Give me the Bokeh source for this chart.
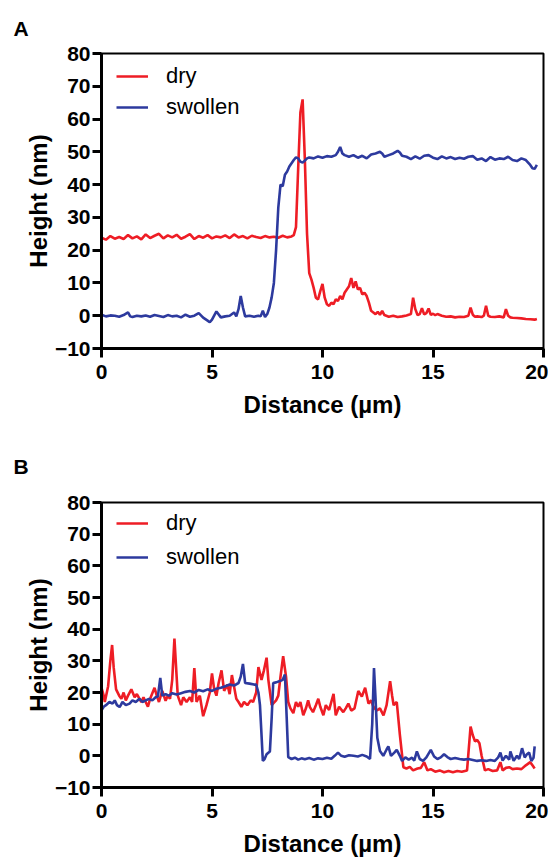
from bokeh.plotting import figure
from bokeh.layouts import column
from bokeh.models import Legend, LegendItem, Title, FixedTicker, Range1d
from bokeh.embed import file_html
from bokeh.resources import INLINE

# ---------------- data ----------------
x_ticks = [0, 5, 10, 15, 20]
y_ticks = [-10, 0, 10, 20, 30, 40, 50, 60, 70, 80]
series_names = ["dry", "swollen"]
panel_letters = ["A", "B"]

a_dry_x = [0.0,0.2,0.4,0.6,0.8,1.0,1.2,1.4,1.6,1.8,2.0,2.2,2.4,2.6,2.8,3.0,3.2,3.4,3.6,3.8,
           4.0,4.2,4.4,4.6,4.8,5.0,5.2,5.4,5.6,5.8,6.0,6.2,6.4,6.6,6.8,7.0,7.2,7.4,7.6,7.8,
           8.0,8.2,8.4,8.6,8.7,8.8,8.9,9.0,9.1,9.2,9.3,9.4,9.5,9.6,9.7,9.8,9.9,10.0,10.1,10.2,
           10.3,10.4,10.5,10.6,10.7,10.8,10.9,11.0,11.1,11.2,11.3,11.4,11.5,11.6,11.7,11.8,11.9,12.0,12.1,12.2,
           12.3,12.4,12.5,12.6,12.7,12.8,13.0,13.2,13.4,13.6,13.8,14.0,14.1,14.2,14.3,14.4,14.5,14.6,14.7,14.8,
           14.9,15.0,15.1,15.2,15.4,15.6,15.8,16.0,16.2,16.4,16.6,16.7,16.8,16.9,17.0,17.2,17.3,17.4,17.5,17.6,
           17.8,18.0,18.2,18.3,18.4,18.5,18.6,18.8,19.0,19.2,19.4,19.6,19.7]
a_dry_y = [23.8,23.2,24.3,23.5,24.0,23.4,24.6,23.6,24.2,23.3,24.8,23.7,24.4,25.0,23.6,24.5,23.9,24.7,23.5,24.1,
           24.9,23.4,24.3,23.8,24.6,23.6,24.2,23.9,24.5,23.7,24.8,23.9,24.3,23.6,24.4,24.0,23.7,24.3,23.9,24.1,
           23.8,24.4,23.9,24.2,24.6,27.0,45.0,62.0,66.0,48.0,25.0,13.0,11.0,8.5,5.5,5.0,7.5,9.7,5.5,3.5,
           3.0,4.0,3.5,5.0,4.5,6.0,5.0,7.0,8.0,9.0,11.5,8.5,10.5,8.0,8.5,6.5,7.0,6.0,4.0,1.5,
           1.0,0.5,1.2,0.3,1.5,0.2,-0.3,0.0,-0.4,-0.2,0.1,0.5,5.5,2.0,0.2,0.5,2.3,0.4,0.8,2.2,
           0.3,0.6,0.2,0.5,0.0,-0.3,-0.2,-0.5,-0.3,-0.4,0.0,2.5,0.3,-0.3,-0.2,-0.4,0.0,3.0,0.0,-0.3,
           -0.4,-0.2,-0.5,2.0,0.0,-0.5,-0.6,-0.7,-0.8,-1.0,-1.1,-1.2,-1.0]

a_sw_x = [0.0,0.2,0.4,0.6,0.8,1.0,1.2,1.3,1.4,1.6,1.8,2.0,2.2,2.4,2.6,2.8,3.0,3.2,3.4,3.6,
          3.8,4.0,4.2,4.4,4.6,4.8,4.9,5.0,5.2,5.4,5.6,5.8,6.0,6.1,6.2,6.3,6.4,6.5,6.7,6.9,
          7.1,7.2,7.3,7.4,7.5,7.6,7.7,7.8,7.9,8.0,8.1,8.2,8.3,8.4,8.5,8.6,8.7,8.8,8.9,9.0,
          9.1,9.2,9.3,9.4,9.6,9.8,10.0,10.2,10.4,10.6,10.7,10.8,10.9,11.0,11.2,11.4,11.6,11.8,12.0,12.2,
          12.4,12.6,12.7,12.8,13.0,13.2,13.4,13.5,13.6,13.8,14.0,14.2,14.4,14.6,14.8,15.0,15.2,15.4,15.6,15.8,
          16.0,16.2,16.4,16.6,16.8,17.0,17.2,17.4,17.6,17.8,18.0,18.2,18.4,18.6,18.8,19.0,19.2,19.4,19.5,19.6,19.7]
a_sw_y = [0.3,-0.2,0.1,0.0,-0.3,0.2,1.0,-0.2,-0.4,0.0,-0.2,0.1,-0.3,0.2,-0.1,-0.4,0.2,-0.2,0.0,-0.5,
          0.3,-0.3,0.0,0.8,-0.6,-1.5,-2.0,-1.2,1.3,-0.5,-0.2,0.0,1.0,-0.2,2.0,6.0,2.5,-0.2,0.0,-0.3,
          0.0,-0.2,1.5,-0.4,0.5,2.5,5.6,10.0,20.0,33.0,40.0,39.5,43.0,44.0,45.5,46.5,47.5,48.3,48.0,47.0,
          46.7,47.3,48.0,48.3,48.0,48.6,48.2,48.7,48.5,49.0,50.0,51.5,49.5,49.0,48.5,49.0,48.2,48.8,48.0,49.2,
          49.5,50.0,49.5,48.5,49.0,49.5,50.3,49.8,48.8,48.5,47.8,48.6,47.9,48.8,49.0,48.2,47.8,48.6,48.0,48.4,
          47.8,48.2,47.9,48.5,48.7,47.6,48.0,47.2,48.4,47.6,48.0,47.8,48.5,47.5,47.2,48.0,47.5,46.0,45.0,44.8,46.0]

b_dry_x = [0.0,0.1,0.15,0.3,0.4,0.48,0.55,0.66,0.8,0.9,1.0,1.1,1.2,1.35,1.5,1.6,1.8,1.9,2.1,2.2,
           2.4,2.5,2.6,2.75,2.9,3.0,3.1,3.2,3.3,3.4,3.45,3.6,3.7,3.85,4.0,4.1,4.2,4.3,4.45,4.6,
           4.75,4.9,5.0,5.1,5.2,5.3,5.43,5.55,5.7,5.8,5.9,6.1,6.2,6.33,6.45,6.6,6.75,6.86,7.0,7.1,
           7.24,7.35,7.47,7.55,7.7,7.9,8.0,8.1,8.22,8.35,8.45,8.55,8.68,8.8,8.9,9.0,9.13,9.25,9.35,9.43,
           9.57,9.7,9.81,9.9,10.04,10.15,10.3,10.5,10.6,10.75,10.94,11.05,11.17,11.3,11.45,11.62,11.78,11.93,12.08,12.2,
           12.3,12.46,12.6,12.76,12.9,13.06,13.15,13.22,13.36,13.5,13.66,13.8,13.95,14.1,14.3,14.45,14.6,14.75,14.9,15.1,
           15.3,15.5,15.7,15.9,16.1,16.3,16.54,16.7,16.8,16.9,17.0,17.1,17.2,17.35,17.5,17.7,17.9,18.05,18.15,18.3,
           18.45,18.6,18.8,19.0,19.2,19.4,19.5,19.6]
b_dry_y = [21.5,19.0,17.0,22.0,30.0,35.0,28.0,21.0,19.0,18.0,20.0,17.5,19.0,21.0,18.5,19.5,17.0,18.5,15.5,18.0,
           21.5,19.0,17.0,20.5,17.4,19.0,18.0,24.0,37.0,25.0,19.0,16.0,18.5,17.0,18.5,17.0,27.7,17.0,19.0,12.5,
           16.0,20.0,26.0,21.0,19.0,23.0,27.0,20.5,22.5,19.5,25.5,18.0,17.0,15.5,17.0,16.0,17.5,17.0,20.0,28.0,
           24.0,27.0,31.0,24.0,16.0,17.5,19.0,25.0,31.5,25.0,17.0,15.0,13.5,17.0,15.5,17.0,12.8,15.0,17.5,15.4,
           13.8,16.0,18.0,15.5,12.8,16.0,14.5,19.6,12.8,15.5,13.8,15.0,16.5,14.3,15.0,20.5,18.7,21.5,16.5,17.5,
           15.5,14.3,15.0,12.8,16.0,23.6,19.0,16.0,17.0,6.7,-3.6,-4.0,-3.5,-4.6,-4.0,-3.8,-2.0,-4.6,-4.2,-5.0,
           -4.6,-5.2,-4.8,-5.2,-4.8,-5.0,-4.6,9.2,6.5,4.6,5.0,4.0,0.0,-4.6,-4.2,-4.8,-4.6,-2.0,-4.6,-3.8,
           -3.6,-4.2,-4.0,-4.2,-3.0,-2.0,-3.0,-4.0]

b_sw_x = [0.0,0.1,0.2,0.36,0.5,0.6,0.7,0.82,0.95,1.1,1.27,1.4,1.55,1.72,1.85,2.0,2.15,2.3,2.45,2.55,
          2.66,2.75,2.9,3.05,3.2,3.4,3.6,3.8,4.0,4.2,4.4,4.6,4.8,5.0,5.2,5.4,5.6,5.8,6.0,6.2,
          6.3,6.4,6.5,6.7,6.9,7.0,7.1,7.17,7.24,7.3,7.38,7.47,7.55,7.62,7.7,7.77,7.9,8.07,8.2,8.3,
          8.38,8.45,8.6,8.75,8.9,9.05,9.2,9.4,9.6,9.8,10.0,10.2,10.4,10.55,10.7,10.85,11.0,11.2,11.4,11.6,
          11.8,12.0,12.15,12.25,12.33,12.4,12.48,12.6,12.75,12.9,12.98,13.1,13.25,13.36,13.5,13.6,13.75,13.9,14.05,14.15,
          14.27,14.4,14.55,14.7,14.9,15.05,15.2,15.35,15.5,15.65,15.8,16.0,16.2,16.4,16.6,16.8,17.0,17.2,17.4,17.6,
          17.8,17.95,18.05,18.15,18.3,18.45,18.5,18.65,18.8,18.9,19.03,19.15,19.25,19.35,19.45,19.55,19.6]
b_sw_y = [14.4,15.5,16.0,17.0,16.5,17.5,16.0,15.4,17.0,16.0,16.5,17.5,17.0,18.0,17.0,17.5,18.0,17.5,18.5,18.7,
          24.6,19.0,19.5,19.0,19.8,19.4,19.8,20.2,20.5,20.0,20.8,20.4,21.0,20.5,21.2,21.5,22.0,22.5,22.2,23.0,
          25.0,29.0,23.0,22.8,22.5,22.5,20.0,16.0,6.7,-1.6,-1.0,0.5,1.0,1.4,12.0,23.0,23.2,23.6,24.0,25.7,
          12.0,-0.4,-1.0,-0.6,-1.2,-0.8,-1.1,-0.7,-1.2,-0.8,-1.0,-0.6,-0.9,0.0,1.0,0.0,-0.3,0.2,0.0,-0.2,
          0.3,-0.2,-1.0,10.0,27.7,18.0,5.7,1.5,0.0,2.0,3.0,0.0,1.0,1.9,0.0,-1.6,-0.5,-1.2,-0.6,-1.5,
          1.4,-1.0,-1.6,-0.5,1.9,-0.2,-1.0,-0.5,0.5,-0.4,-1.0,-0.7,-1.0,-1.2,-1.0,-1.3,-1.6,-1.4,-1.6,-1.3,
          -1.6,-0.5,1.0,-1.5,0.0,-1.2,1.4,-1.6,0.0,-1.0,2.4,-0.5,0.5,1.0,-1.6,-0.6,3.0]

RED = "#EE1D25"
BLUE = "#2D3A9E"
FONT = "Liberation Sans"


def make_panel(letter, dx, dy, sx, sy, height, top, bottom, leg_y, leg_spacing, title_standoff):
    p = figure(width=548, height=height, output_backend="svg", toolbar_location=None,
               x_range=Range1d(0, 20), y_range=Range1d(-10, 80),
               min_border_left=101, min_border_right=5, min_border_top=top, min_border_bottom=bottom)
    p.grid.visible = False
    p.outline_line_color = "black"
    p.outline_line_width = 2
    p.background_fill_color = "white"
    p.border_fill_color = "white"

    t = Title(text=letter, align="left", offset=-88, standoff=title_standoff,
              text_font=FONT, text_font_size="21px", text_font_style="bold", text_color="black")
    p.add_layout(t, "above")

    r1 = p.line(dx, dy, line_color=RED, line_width=2.6)
    r2 = p.line(sx, sy, line_color=BLUE, line_width=2.6)

    p.xaxis.ticker = FixedTicker(ticks=x_ticks)
    p.yaxis.ticker = FixedTicker(ticks=y_ticks)
    p.xaxis.axis_label = "Distance (µm)"
    p.yaxis.axis_label = "Height (nm)"
    for ax in (p.xaxis[0], p.yaxis[0]):
        ax.axis_line_width = 3
        ax.axis_line_color = "black"
        ax.major_tick_line_width = 3
        ax.major_tick_line_color = "black"
        ax.major_tick_out = 9
        ax.major_tick_in = 0
        ax.minor_tick_line_color = None
        ax.major_label_text_font = FONT
        ax.major_label_text_font_style = "bold"
        ax.major_label_text_font_size = "21px"
        ax.major_label_text_color = "black"
        ax.axis_label_text_font = FONT
        ax.axis_label_text_font_style = "bold"
        ax.axis_label_text_font_size = "24px"
        ax.axis_label_text_color = "black"
    p.xaxis.major_label_standoff = 7
    p.xaxis.axis_label_standoff = 9
    p.yaxis.major_label_standoff = 2
    p.yaxis.axis_label_standoff = 0

    leg = Legend(items=[LegendItem(label=series_names[0], renderers=[r1]),
                        LegendItem(label=series_names[1], renderers=[r2])],
                 location=(15, leg_y), orientation="vertical",
                 label_text_font=FONT, label_text_font_size="22px", label_text_color="black",
                 glyph_width=32, glyph_height=28, label_height=28, label_standoff=18,
                 spacing=leg_spacing, padding=0, margin=0,
                 background_fill_alpha=0, border_line_color=None)
    p.add_layout(leg)
    return p


pa = make_panel(panel_letters[0], a_dry_x, a_dry_y, a_sw_x, a_sw_y, 427, 53, 79, 227, 3, 27)
pb = make_panel(panel_letters[1], b_dry_x, b_dry_y, b_sw_x, b_sw_y, 432, 75, 65, 216, 6, 49)

layout = column(pa, pb, spacing=0)
open("out.html", "w").write(file_html(layout, INLINE))
